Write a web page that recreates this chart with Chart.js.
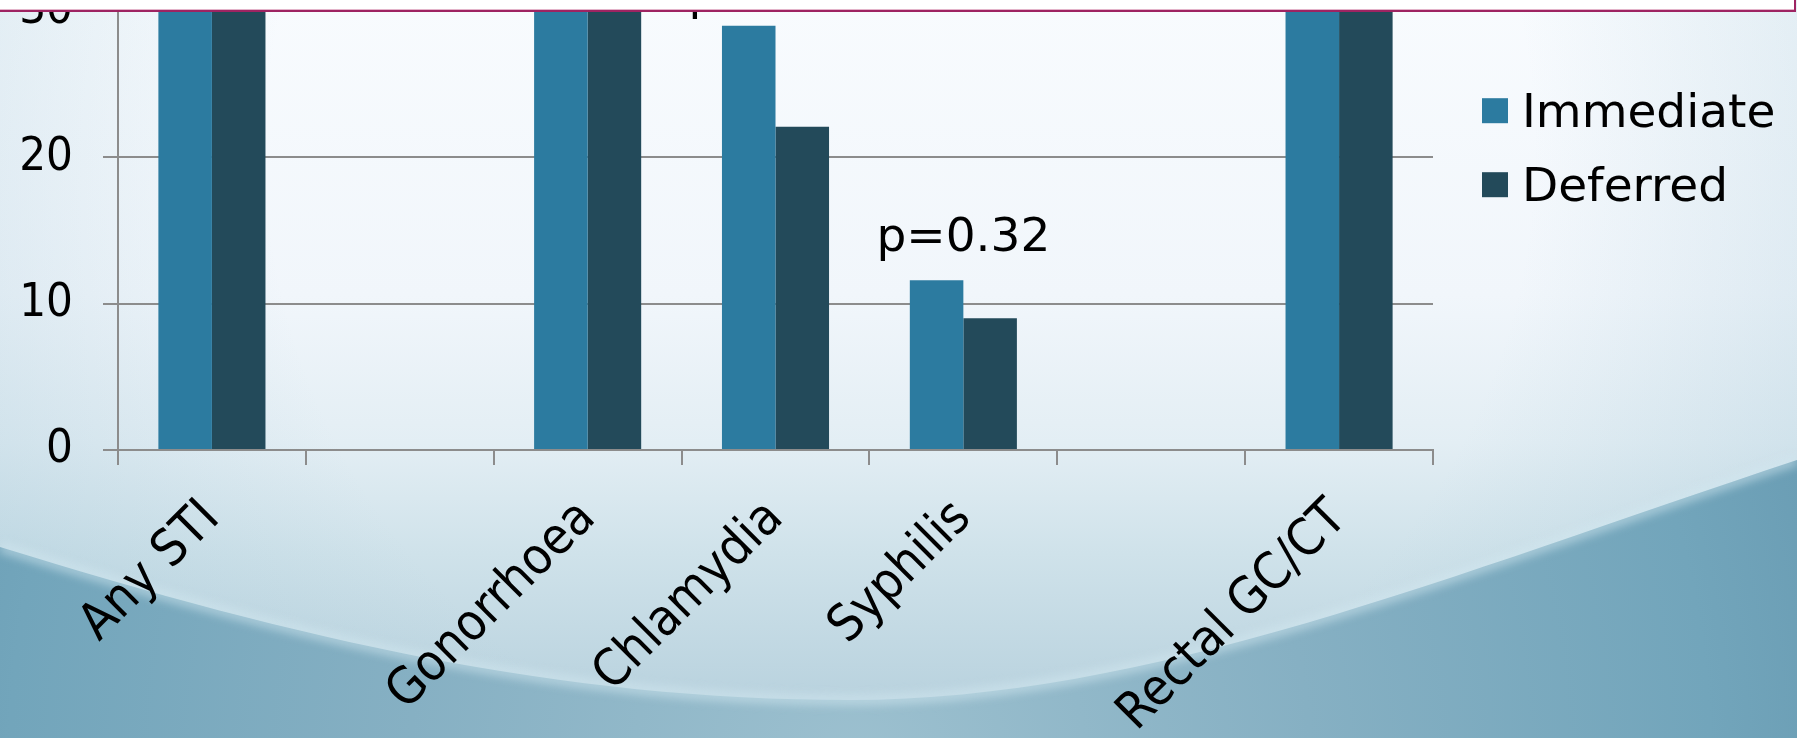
<!DOCTYPE html>
<html>
<head>
<meta charset="utf-8">
<script src="https://cdn.jsdelivr.net/npm/chart.js@4.4.1/dist/chart.umd.min.js"></script>
<style>
  html, body { margin: 0; padding: 0; }
  body { width: 1797px; height: 738px; overflow: hidden; position: relative; background: #eef4f9; }
  #bg { position: absolute; left: 0; top: 0; }
  #chart { position: absolute; left: 0; top: -47px; }
  #topbox {
    position: absolute; left: -5px; top: 0; width: 1799px; height: 10px;
    background: #ffffff;
    border-bottom: 2px solid #9e2462; border-right: 2px solid #9e2462;
    box-shadow: 0 -1px 0 #e3b3c9 inset;
  }
</style>
</head>
<body>
<canvas id="bg" width="1797" height="738"></canvas>
<canvas id="chart" width="1797" height="815"></canvas>
<div id="topbox"></div>
<script>
// Categories (two unlabeled spacer slots keep the original spacing)
const categories = ['Any STI', '', 'Gonorrhoea', 'Chlamydia', 'Syphilis', '', 'Rectal GC/CT'];

// Percentage of participants diagnosed, by arm
const immediate = [57, null, 36, 29.0, 11.6, null, 36];
const deferred  = [50, null, 31, 22.1, 9.0, null, 33];

// Y axis tick values
const yTicks = [0, 10, 20, 30];

// Significance labels above each pair
const pLabels = ['', '', '', 'p=0.07', 'p=0.32', '', ''];

const seriesNames = ['Immediate', 'Deferred'];
const seriesColors = ['#2c7ba0', '#234a5a'];

const yFont = { family: "'DejaVu Sans Condensed', 'DejaVu Sans', sans-serif", size: 47 };
const xFont = { family: "'DejaVu Sans Condensed', 'DejaVu Sans', sans-serif", size: 51 };
const textFont = "47px 'DejaVu Sans', sans-serif";

// Slide backdrop: pale sky wash with a darker teal swoosh along the bottom
(function paintBackdrop() {
  const c = document.getElementById('bg');
  const g = c.getContext('2d');
  const W = c.width, H = c.height;

  const sky = g.createLinearGradient(0, 0, 0, H);
  sky.addColorStop(0.00, '#f8fbfe');
  sky.addColorStop(0.40, '#f1f6fb');
  sky.addColorStop(0.60, '#e3eef4');
  sky.addColorStop(0.75, '#cfe2ea');
  sky.addColorStop(1.00, '#b3cedb');
  g.fillStyle = sky;
  g.fillRect(0, 0, W, H);

  // gentle vignette towards the edges
  const vig = g.createRadialGradient(900, 150, 0, 900, 150, 1150);
  vig.addColorStop(0.55, 'rgba(140,184,204,0)');
  vig.addColorStop(1.00, 'rgba(140,184,204,0.35)');
  g.fillStyle = vig;
  g.fillRect(0, 0, W, H);

  const swoosh = () => {
    g.beginPath();
    g.moveTo(0, 547);
    g.bezierCurveTo(300, 640, 560, 700, 850, 700);
    g.bezierCurveTo(1150, 700, 1450, 575, 1797, 460);
  };

  g.save();
  swoosh();
  g.lineTo(W, H); g.lineTo(0, H); g.closePath();
  const deep = g.createRadialGradient(860, 760, 0, 860, 760, 1000);
  deep.addColorStop(0.00, '#9cc0cf');
  deep.addColorStop(0.45, '#86b0c3');
  deep.addColorStop(0.85, '#72a5bb');
  deep.addColorStop(1.00, '#6a9db4');
  g.fillStyle = deep;
  g.fill();
  g.restore();

  g.save();
  g.filter = 'blur(5px)';
  swoosh();
  g.strokeStyle = 'rgba(210,232,240,0.6)';
  g.lineWidth = 10;
  g.stroke();
  g.restore();
})();

// p-value labels, drawn centred over their category
const pValuePlugin = {
  id: 'pValues',
  afterDatasetsDraw(chart, args, opts) {
    const { ctx, scales: { x, y } } = chart;
    ctx.save();
    ctx.font = textFont;
    ctx.fillStyle = '#000';
    ctx.textAlign = 'center';
    ctx.textBaseline = 'alphabetic';
    pLabels.forEach((txt, i) => {
      if (!txt) return;
      const top = Math.max(immediate[i] ?? 0, deferred[i] ?? 0);
      const gap = opts.gaps[i] ?? 24;
      ctx.fillText(txt, x.getPixelForValue(i), y.getPixelForValue(top) - gap);
    });
    ctx.restore();
  }
};

// Legend to the right of the plot
const sideLegendPlugin = {
  id: 'sideLegend',
  afterDraw(chart, args, opts) {
    const { ctx, chartArea } = chart;
    ctx.save();
    ctx.font = textFont;
    ctx.textBaseline = 'alphabetic';
    ctx.textAlign = 'left';
    chart.data.datasets.forEach((ds, i) => {
      const x0 = chartArea.right + opts.offsetX;
      const base = chartArea.top + opts.firstBaseline + i * opts.rowGap;
      ctx.fillStyle = ds.backgroundColor;
      ctx.fillRect(x0, base - 29, 26, 25);
      ctx.fillStyle = '#000';
      ctx.fillText(ds.label, x0 + 40, base);
    });
    ctx.restore();
  }
};

new Chart(document.getElementById('chart'), {
  type: 'bar',
  data: {
    labels: categories,
    datasets: seriesNames.map((name, i) => ({
      label: name,
      data: i === 0 ? immediate : deferred,
      backgroundColor: seriesColors[i],
      borderWidth: 0,
      categoryPercentage: 0.57,
      barPercentage: 1.0,
      clip: 0
    }))
  },
  options: {
    responsive: false,
    animation: false,
    devicePixelRatio: 1,
    layout: { padding: { left: 0, right: 364, top: 0, bottom: 0 } },
    plugins: {
      legend: { display: false },
      tooltip: { enabled: false },
      pValues: { gaps: { 3: 17, 4: 29 } },
      sideLegend: { offsetX: 49, firstBaseline: 116, rowGap: 74 }
    },
    scales: {
      x: {
        grid: { display: true, drawOnChartArea: false, offset: true, color: '#8c8c8c', lineWidth: 2, tickLength: 15 },
        border: { display: true, color: '#8c8c8c', width: 2 },
        ticks: {
          autoSkip: false, minRotation: 45, maxRotation: 45,
          color: '#000', font: xFont, padding: 24
        }
      },
      y: {
        min: 0, max: 30,
        afterBuildTicks(scale) { scale.ticks = yTicks.map(v => ({ value: v })); },
        afterFit(scale) { scale.width = 118; },
        grid: { color: '#8c8c8c', lineWidth: 2, tickLength: 15 },
        border: { display: true, color: '#8c8c8c', width: 2 },
        ticks: { color: '#000', font: yFont, padding: 30, stepSize: 10 }
      }
    }
  },
  plugins: [pValuePlugin, sideLegendPlugin]
});
</script>
</body>
</html>
